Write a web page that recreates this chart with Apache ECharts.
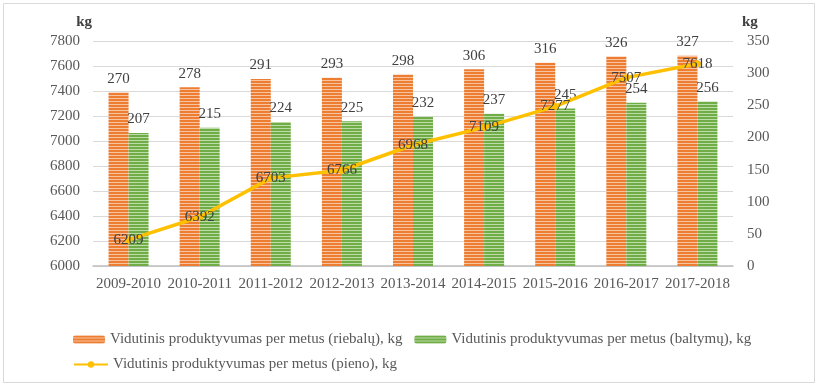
<!DOCTYPE html>
<html>
<head>
<meta charset="utf-8">
<script src="https://cdn.jsdelivr.net/npm/echarts@6/dist/echarts.min.js"></script>
<style>html,body{margin:0;padding:0;background:#fff}#c{width:820px;height:391px}</style>
</head>
<body>
<div id="c"></div>
<script>
const categories = ['2009-2010','2010-2011','2011-2012','2012-2013','2013-2014','2014-2015','2015-2016','2016-2017','2017-2018'];
const fatValues = [270, 278, 291, 293, 298, 306, 316, 326, 327];
const proteinValues = [207, 215, 224, 225, 232, 237, 245, 254, 256];
const milkValues = [6209, 6392, 6703, 6766, 6968, 7109, 7277, 7507, 7618];
const seriesNames = [
  'Vidutinis produktyvumas per metus (riebalų), kg',
  'Vidutinis produktyvumas per metus (baltymų), kg',
  'Vidutinis produktyvumas per metus (pieno), kg'
];

function stripe(base, light) {
  const c = document.createElement('canvas');
  c.width = 4; c.height = 3;
  const g = c.getContext('2d');
  g.fillStyle = base; g.fillRect(0, 0, 4, 3);
  g.fillStyle = light; g.fillRect(0, 2, 4, 1);
  return { image: c, repeat: 'repeat' };
}
const orangePat = stripe('#ED7D31', '#F8C3A0');
const greenPat = stripe('#70AD47', '#BCDCA8');

const font = '"Liberation Serif", "Times New Roman", serif';
const chart = echarts.init(document.getElementById('c'));
chart.setOption({
  backgroundColor: '#fff',
  animation: false,
  textStyle: { fontFamily: font },
  graphic: [{
    type: 'rect', shape: { x: 3.5, y: 3.5, width: 811, height: 379 },
    style: { fill: 'none', stroke: '#D9D9D9', lineWidth: 1 }, silent: true
  }],
  grid: { left: 93, right: 87, top: 41, bottom: 125 },
  legend: [{
    data: [seriesNames[0], seriesNames[1]],
    left: 68, top: 327, itemWidth: 32, itemHeight: 8, itemGap: 12,
    textStyle: { fontFamily: font, fontSize: 15, color: '#595959' }
  }, {
    data: [seriesNames[2]],
    left: 68, top: 352, itemWidth: 34, itemHeight: 8,
    textStyle: { fontFamily: font, fontSize: 15, color: '#595959' }
  }],
  xAxis: {
    type: 'category', data: categories,
    axisTick: { show: false },
    axisLine: { lineStyle: { color: '#BFBFBF', width: 1.5 } },
    axisLabel: { fontFamily: font, fontSize: 15, color: '#595959', margin: 11, interval: 0 }
  },
  yAxis: [{
    type: 'value', min: 6000, max: 7800, interval: 200,
    name: 'kg', nameLocation: 'end', nameGap: 11,
    nameTextStyle: { fontFamily: font, fontSize: 15, fontWeight: 'bold', color: '#404040', align: 'right', padding: [0, 1, 0, 0] },
    axisLine: { show: false }, axisTick: { show: false },
    axisLabel: { fontFamily: font, fontSize: 15, color: '#595959', margin: 13, formatter: v => String(v) },
    splitLine: { lineStyle: { color: '#D9D9D9', width: 1 } }
  }, {
    type: 'value', min: 0, max: 350, interval: 50, position: 'right',
    name: 'kg', nameLocation: 'end', nameGap: 11,
    nameTextStyle: { fontFamily: font, fontSize: 15, fontWeight: 'bold', color: '#404040', align: 'left', padding: [0, 0, 0, 9] },
    axisLine: { show: false }, axisTick: { show: false },
    axisLabel: { fontFamily: font, fontSize: 15, color: '#595959', margin: 14, formatter: v => String(v) },
    splitLine: { show: false }
  }],
  series: [{
    name: seriesNames[0], type: 'bar', yAxisIndex: 1, data: fatValues,
    barWidth: 20, barGap: '0%',
    itemStyle: { color: orangePat },
    label: { show: true, position: 'top', distance: 6, fontFamily: font, fontSize: 15, color: '#404040' }
  }, {
    name: seriesNames[1], type: 'bar', yAxisIndex: 1, data: proteinValues,
    barWidth: 20, barGap: '0%',
    itemStyle: { color: greenPat },
    label: { show: true, position: 'top', distance: 6, fontFamily: font, fontSize: 15, color: '#404040' }
  }, {
    name: seriesNames[2], type: 'line', yAxisIndex: 0, data: milkValues,
    symbol: 'circle', symbolSize: 7, z: 5,
    lineStyle: { color: '#FFC000', width: 3.5 },
    itemStyle: { color: '#FFC000' },
    label: { show: true, position: 'inside', fontFamily: font, fontSize: 15, color: '#404040' }
  }]
});
</script>
</body>
</html>
